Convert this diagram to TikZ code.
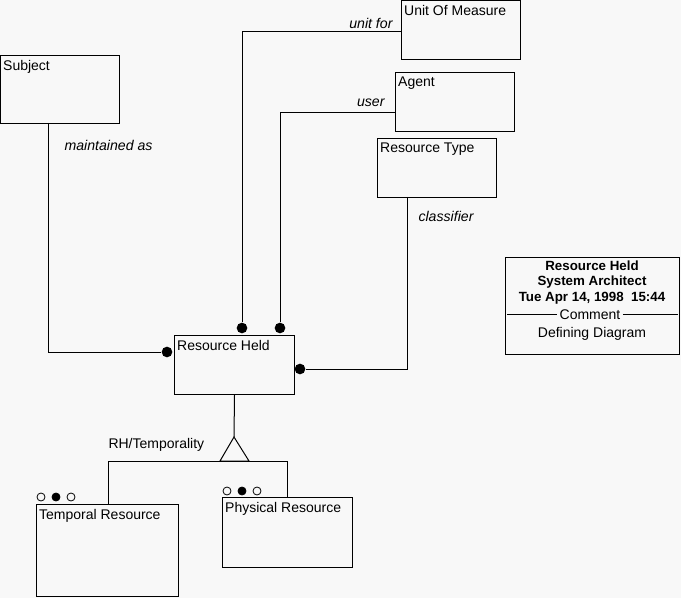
\documentclass[tikz,border=0pt]{standalone}
\usepackage{fontspec}
\setmainfont{Liberation Sans}
\usetikzlibrary{positioning,calc}
\definecolor{paper}{RGB}{248,248,248}

\tikzset{
  entity/.style 2 args={draw,rectangle,anchor=north west,inner sep=0pt,
    minimum width=#1*0.75pt,minimum height=#2*0.75pt},
  title/.style={anchor=north west,inner xsep=2pt,inner ysep=3.5pt,label distance=0pt},
  role/.style={font=\fontsize{10.6}{12}\selectfont\itshape,inner sep=0pt},
  head/.style={font=\fontsize{10}{12}\selectfont\bfseries,inner sep=0pt},
  dot/.style={circle,fill,inner sep=0pt,minimum size=8pt},
  ring/.style={circle,draw,inner sep=0pt,minimum size=6pt,line width=0.6pt}
}

\begin{document}
\begin{tikzpicture}[x=0.75pt,y=-0.75pt,line width=0.75pt,
  every node/.append style={font=\fontsize{10.5}{12}\selectfont}]
\fill[paper] (0,0) rectangle (681,598);
\useasboundingbox (0,0) rectangle (681,598);

% entities
\node[entity={119}{59},label={[title]north west:Unit Of Measure}] (um) at (401,0) {};
\node[entity={119}{59},label={[title]north west:Agent}] (agent) at (395,72) {};
\node[entity={119}{59},label={[title]north west:Resource Type}] (rtype) at (377,138) {};
\node[entity={119}{68},label={[title]north west:Subject}] (subj) at (0,55) {};
\node[entity={120}{59},label={[title]north west:Resource Held}] (rh) at (174,335) {};
\node[entity={142}{92},label={[title]north west:Temporal Resource}] (temp) at (36,504) {};
\node[entity={130}{70},label={[title]north west:Physical Resource}] (phys) at (222,497) {};

% ends of the relationships
\coordinate (umin) at (401,32);
\coordinate (agin) at (395,113);
\coordinate (rtout) at (407,197);
\coordinate (subout) at (48,123);

\node[dot] (dum) at (242,328) {};
\node[dot] (dag) at (280,328) {};
\node[dot] (dsub) at (167,352) {};
\node[dot] (drt) at (300,369) {};

\draw (dum) |- (umin);
\draw (dag) |- (agin);
\draw (subout) |- (dsub);
\draw (rtout) |- (drt);

\node[role,anchor=east] at (393,23) {unit for};
\node[role,anchor=east] at (385,103) {user};
\node[role,anchor=west] at (418,216) {classifier};
\node[role,anchor=west] at (64,145) {maintained as};

% subtypes
\coordinate (apex) at (234,437);
\coordinate (tj) at (108,504);
\coordinate (pj) at (287,497);
\draw (rh.south) -- (apex);
\draw (apex) -- ++(-14,24) -- ++(29,0) -- cycle;
\draw (tj) -- ++(0,-43) -| (pj);
\node[anchor=west,inner sep=0pt] at (108,445) {RH/Temporality};

\foreach \x/\f in {41/paper,56/black,71/paper}
	\node[ring,fill=\f] at (\x,497) {};
\foreach \x/\f in {227/paper,242/black,257/paper}
	\node[ring,fill=\f] at (\x,491) {};

% comment
\node[entity={174}{97}] (note) at (505,257) {};
\node[head] (n1) at (592,266) {Resource Held};
\node[head] (n2) at (592,282) {System Architect};
\node[head] (n3) at (592,298) {Tue Apr 14, 1998\ \ 15:44};
\node[inner xsep=1.5pt,inner ysep=0pt] (cm) at (590,315) {Comment};
\draw ([xshift=1.5pt]note.west |- cm) -- (cm.west);
\draw (cm.east) -- ([xshift=-1.5pt]note.east |- cm);
\node[inner sep=0pt] (dd) at (592,334) {Defining Diagram};

\end{tikzpicture}
\end{document}
